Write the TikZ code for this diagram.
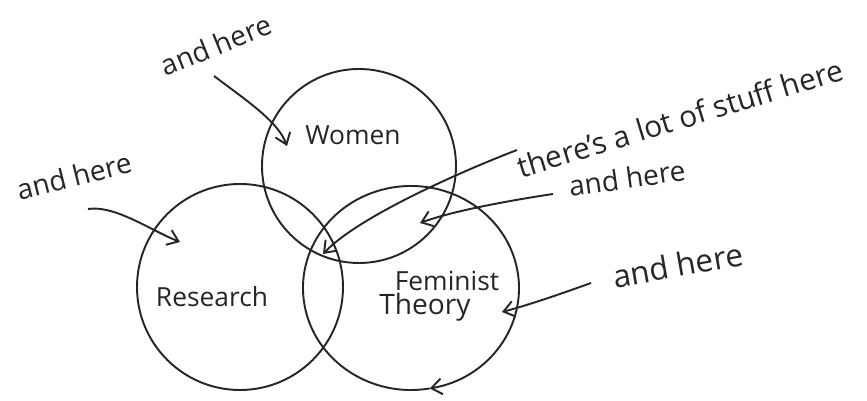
\documentclass[tikz,border=0pt]{standalone}
\usepackage{fontspec}
\setmainfont{Open Sans}
\usetikzlibrary{arrows.meta}
\begin{document}
\begin{tikzpicture}[x=0.02cm, y=-0.02cm,
  ring/.style={line width=1.1pt, draw=black!85},
  pointer/.style={line width=1.1pt, draw=black!85, -{Straight Barb[length=6pt,width=9pt]}},
  setname/.style={font=\fontsize{15}{17}\selectfont, text=black!85, inner sep=0pt},
  scrawl/.style={font=\fontsize{16}{18}\selectfont, text=black!85, inner sep=0pt}]
\useasboundingbox (0,0) rectangle (867,401);

% Circles
\coordinate (womenC) at (359,166);
\coordinate (researchC) at (240,287);
\coordinate (feministC) at (411,288);
\draw[ring] (womenC) circle[radius=97];
\draw[ring] (researchC) circle[radius=103];
% Feminist circle closes with an arrow head
\draw[pointer] (feministC) ++(80:108 and 102)
  arc[start angle=80, end angle=440, x radius=108, y radius=102];

% Set names
\node[setname] (women) at (353,135) {Women};
\node[setname] (research) at (212,297) {Research};
\node[setname] (feminist) at (447,281) {Feminist};
\node[setname, font=\fontsize{16}{18}\selectfont] (theory) at (425,307) {Theory};

% Notes
\node[scrawl, rotate=22] (topHere) at (216,45) {and here};
\node[scrawl, rotate=14] (leftHere) at (74,176) {and here};
\node[scrawl, font=\fontsize{17}{19}\selectfont, rotate=17] (stuff) at (680,118) {there's a lot of stuff here};
\node[scrawl, rotate=8] (midHere) at (627,178) {and here};
\node[scrawl, font=\fontsize{18}{20}\selectfont, rotate=10] (lowHere) at (678,265) {and here};

% Arrows
\coordinate (topTail) at (214,76);   \coordinate (topHead) at (287,146);
\coordinate (leftTail) at (88,209);  \coordinate (leftHead) at (180,242);
\coordinate (stuffTail) at (517,150); \coordinate (stuffHead) at (323,254);
\coordinate (midTail) at (553,194);  \coordinate (midHead) at (420,223);
\coordinate (lowTail) at (591,283);  \coordinate (lowHead) at (502,312);

\draw[pointer] (topTail) .. controls (250,103) and (278,122) .. (topHead);
\draw[pointer] (leftTail) .. controls (115,205) and (150,230) .. (leftHead);
\draw[pointer] (stuffTail) .. controls (470,168) and (360,215) .. (stuffHead);
\draw[pointer] (midTail) .. controls (500,202) and (450,212) .. (midHead);
\draw[pointer] (lowTail) .. controls (555,296) and (525,306) .. (lowHead);

\end{tikzpicture}
\end{document}
